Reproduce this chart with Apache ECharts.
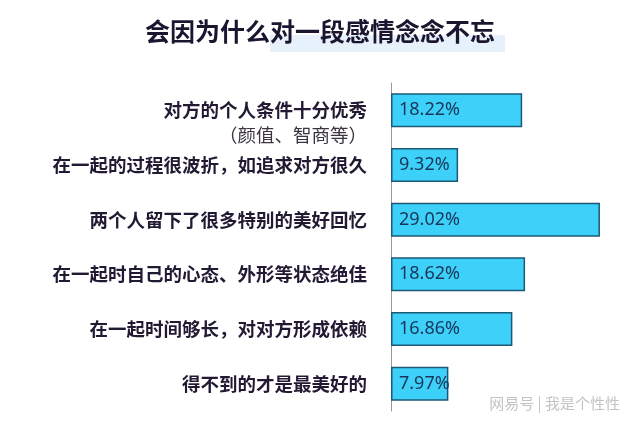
<!DOCTYPE html>
<html>
<head>
<meta charset="utf-8">
<style>
html,body{margin:0;padding:0;background:#ffffff;}
#chart{width:640px;height:430px;}
</style>
<script src="https://cdn.jsdelivr.net/npm/echarts@6/dist/echarts.min.js"></script>
</head>
<body>
<div id="chart"></div>
<script>
const titleText = '会因为什么对一段感情念念不忘';
const categories = ['对方的个人条件十分优秀', '在一起的过程很波折，如追求对方很久', '两个人留下了很多特别的美好回忆', '在一起时自己的心态、外形等状态绝佳', '在一起时间够长，对对方形成依赖', '得不到的才是最美好的'];
const notes = ['（颜值、智商等）', '', '', '', '', ''];
const values = [18.22, 9.32, 29.02, 18.62, 16.86, 7.97];
const watermark = '网易号 | 我是个性性';

const CJK = '"Noto Sans CJK SC", "Noto Sans", sans-serif';
const chart = echarts.init(document.getElementById('chart'));
chart.setOption({
  backgroundColor: '#ffffff',
  animation: false,
  graphic: [
    { type: 'rect', left: 270, top: 35, shape: { width: 235, height: 17 }, style: { fill: '#e6f1fb' }, z: 0 },
    { type: 'text', left: 'center', top: 19, z: 10,
      style: { text: titleText, font: 'bold 25px ' + CJK, fill: '#1b1530' } },
    { type: 'text', right: 20, top: 396, z: 10,
      style: { text: watermark, font: '15px ' + CJK, fill: '#c4c4c4' } }
  ],
  grid: { left: 391, right: 33, top: 83, bottom: 19 },
  xAxis: { type: 'value', min: 0, max: 30, show: false },
  yAxis: {
    type: 'category', inverse: true, data: categories,
    axisLine: { show: true, lineStyle: { color: '#9a9a9a', width: 1 } },
    axisTick: { show: false },
    axisLabel: {
      margin: 24, align: 'right',
      formatter: function (v, i) {
        if (notes[i]) return '{e| }\n{a|' + v + '}\n{b|' + notes[i] + '}';
        return '{a|' + v + '}';
      },
      rich: {
        a: { fontFamily: CJK, fontWeight: 'bold', fontSize: 18.5, color: '#221a33', lineHeight: 25, align: 'right' },
        b: { fontFamily: CJK, fontWeight: 'normal', fontSize: 18.5, color: '#3a3440', lineHeight: 25, align: 'right' },
        e: { fontSize: 10, lineHeight: 25 }
      }
    }
  },
  series: [{
    type: 'bar', data: values, barWidth: 34,
    itemStyle: { color: '#3dd0f8', borderColor: '#1d5876', borderWidth: 1.5 },
    label: { show: true, position: 'insideLeft', distance: 8, formatter: '{c}%',
      fontFamily: '"Noto Sans", sans-serif', fontSize: 18, color: '#17375a' }
  }]
});
</script>
</body>
</html>
